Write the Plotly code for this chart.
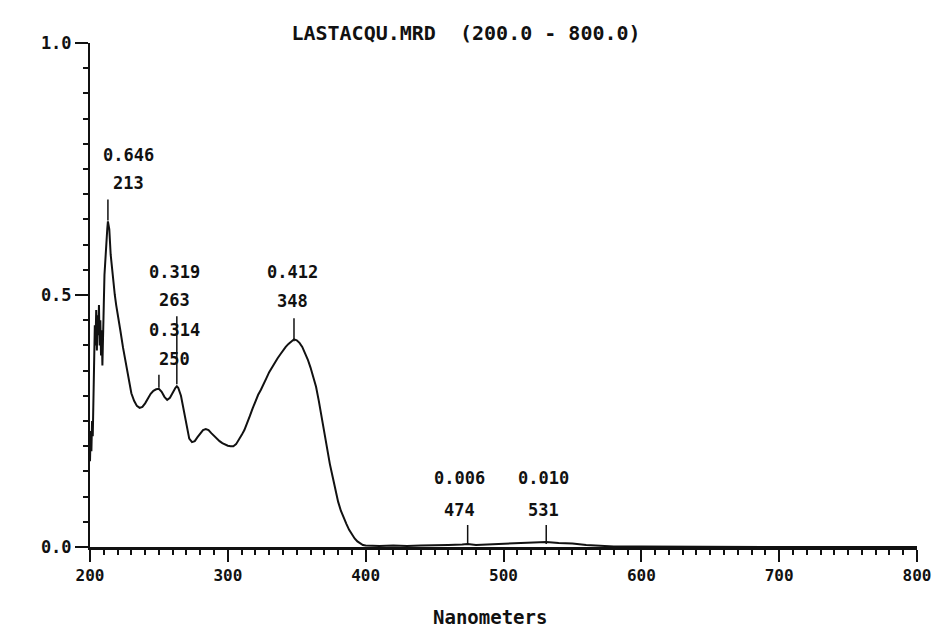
import plotly.graph_objects as go

# ---------------- data ----------------
wavelength_nm = [
    200, 200.5, 201, 201.5, 202, 202.5, 203, 203.5, 204, 204.5, 205, 205.5,
    206, 206.5, 207, 207.5, 208, 208.5, 209, 209.5, 210, 210.5, 211, 211.5,
    212, 212.5, 213, 213.5, 214, 215, 216, 217, 218, 219, 220, 221, 222, 224,
    226, 228, 230, 232, 234, 236, 238, 240, 242, 244, 246, 248, 250, 252, 254,
    256, 258, 260, 262, 263, 264, 266, 268, 270, 272, 274, 276, 278, 280, 282,
    284, 286, 288, 290, 292, 294, 296, 298, 300, 302, 304, 306, 308, 310, 312,
    314, 316, 318, 320, 322, 324, 326, 328, 330, 332, 334, 336, 338, 340, 342,
    344, 346, 348, 350, 352, 354, 356, 358, 360, 362, 364, 366, 368, 370, 372,
    374, 376, 378, 380, 382, 384, 386, 388, 390, 392, 394, 396, 398, 400, 405,
    410, 420, 430, 440, 450, 460, 470, 474, 480, 490, 500, 510, 520, 531, 540,
    550, 560, 570, 580, 600, 650, 700, 750, 800,
]
absorbance = [
    0.17, 0.23, 0.19, 0.25, 0.22, 0.30, 0.38, 0.44, 0.40, 0.47, 0.39, 0.46,
    0.42, 0.48, 0.40, 0.45, 0.38, 0.43, 0.36, 0.40, 0.48, 0.54, 0.57, 0.60,
    0.61, 0.63, 0.646, 0.64, 0.63, 0.58, 0.55, 0.53, 0.50, 0.48, 0.46, 0.445, 0.43, 0.395,
    0.365, 0.33, 0.305, 0.29, 0.28, 0.276, 0.278, 0.285, 0.295, 0.304, 0.31, 0.313, 0.314, 0.308, 0.298,
    0.292, 0.296, 0.307, 0.316, 0.319, 0.316, 0.30, 0.27, 0.24, 0.215, 0.208, 0.21, 0.218, 0.226, 0.232,
    0.234, 0.232, 0.226, 0.22, 0.215, 0.21, 0.206, 0.203, 0.201, 0.200, 0.200, 0.204, 0.212, 0.222, 0.232,
    0.245, 0.26, 0.275, 0.29, 0.302, 0.312, 0.322, 0.335, 0.347, 0.357, 0.366, 0.374, 0.382, 0.39, 0.397,
    0.403, 0.408, 0.412, 0.41, 0.405, 0.397, 0.386, 0.372, 0.356, 0.338, 0.318, 0.29, 0.258, 0.222, 0.19,
    0.165, 0.14, 0.112, 0.09, 0.072, 0.058, 0.046, 0.034, 0.025, 0.017, 0.011, 0.007, 0.004, 0.003, 0.002,
    0.002, 0.003, 0.002, 0.003, 0.003, 0.004, 0.005, 0.006, 0.004, 0.005, 0.006, 0.007, 0.008, 0.010, 0.008,
    0.007, 0.004, 0.002, 0.001, 0.001, 0.0, 0.0, 0.0, 0.0,
]

peak_nm = [213, 250, 263, 348, 474, 531]
peak_abs = [0.646, 0.314, 0.319, 0.412, 0.006, 0.010]

x_ticks = [200, 300, 400, 500, 600, 700, 800]
y_ticks = [0.0, 0.5, 1.0]

title_text = "LASTACQU.MRD  (200.0 - 800.0)"
x_title = "Nanometers"

# ---------------- styling / layout ----------------
FONT = "DejaVu Sans Mono"
INK = "#111111"

# per-peak label placement in pixels: (xshift, value-line yshift, nm-line yshift, marker y0, marker y1)
label_place = {
    213: (21, 66, 38, 1, 22),
    250: (16, 59, 30, 1, 14),
    263: (-2, 114, 86, 2, 70),
    348: (-1, 67, 38, -2, 21),
    474: (-8, 66, 34, 0, 19),
    531: (-3, 64, 32, -2, 17),
}

fig = go.Figure()
fig.add_trace(go.Scatter(
    x=wavelength_nm, y=absorbance, mode="lines",
    line=dict(color=INK, width=2), hoverinfo="skip", showlegend=False,
))

annotations = []
shapes = []
for nm, a in zip(peak_nm, peak_abs):
    xs, ys_val, ys_nm, l0, l1 = label_place[nm]
    annotations.append(dict(
        x=nm, y=a, xref="x", yref="y", text=f"{a:.3f}", showarrow=False,
        xshift=xs, yshift=ys_val, xanchor="center", yanchor="middle",
        font=dict(family=FONT, size=17, color=INK, weight="bold"),
    ))
    annotations.append(dict(
        x=nm, y=a, xref="x", yref="y", text=f"{nm}", showarrow=False,
        xshift=xs, yshift=ys_nm, xanchor="center", yanchor="middle",
        font=dict(family=FONT, size=17, color=INK, weight="bold"),
    ))
    shapes.append(dict(
        type="line", xref="x", yref="y", ysizemode="pixel", yanchor=a,
        x0=nm, x1=nm, y0=l0, y1=l1, line=dict(color=INK, width=1.5),
    ))

annotations.append(dict(
    x=490, y=0, xref="x", yref="paper", text=x_title, showarrow=False,
    yshift=-70, xanchor="center", yanchor="middle",
    font=dict(family=FONT, size=19, color=INK, weight="bold"),
))

fig.update_layout(
    width=932, height=631,
    margin=dict(l=90, r=15, t=43, b=84),
    paper_bgcolor="white", plot_bgcolor="white",
    title=dict(
        text=title_text, x=0.5, xref="container", xanchor="center",
        y=1 - 33 / 631, yref="container", yanchor="middle",
        font=dict(family=FONT, size=20, color=INK, weight="bold"),
    ),
    xaxis=dict(
        range=[200, 800], tickvals=x_ticks, ticks="outside", ticklen=12,
        tickwidth=2, tickcolor=INK, showline=True, linecolor=INK, linewidth=2.5,
        showgrid=False, zeroline=False, automargin=False,
        tickfont=dict(family=FONT, size=16, color=INK, weight="bold"),
        minor=dict(dtick=10, ticks="outside", ticklen=5, tickwidth=2, tickcolor=INK, showgrid=False),
    ),
    yaxis=dict(
        range=[0, 1.0], tickvals=y_ticks, tickformat=".1f", ticks="outside",
        ticklen=13, tickwidth=2, tickcolor=INK, showline=True, linecolor=INK,
        linewidth=2, showgrid=False, zeroline=False, automargin=False,
        tickfont=dict(family=FONT, size=17, color=INK, weight="bold"),
        minor=dict(dtick=0.05, ticks="outside", ticklen=5, tickwidth=2, tickcolor=INK, showgrid=False),
    ),
    annotations=annotations,
    shapes=shapes,
)

fig.write_html("out.html", post_script="document.body.style.margin='0';",
               config={"displayModeBar": False})
